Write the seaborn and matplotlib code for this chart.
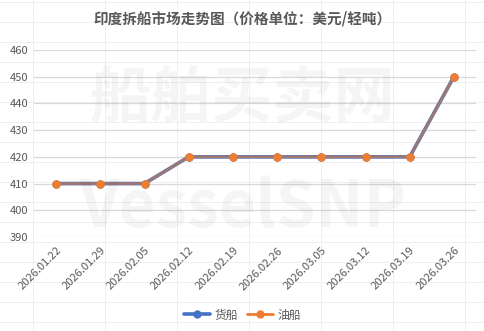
import matplotlib
matplotlib.use("Agg")
import matplotlib.pyplot as plt
import seaborn as sns
import pandas as pd
from matplotlib.lines import Line2D

dates = ["2026.01.22", "2026.01.29", "2026.02.05", "2026.02.12", "2026.02.19",
         "2026.02.26", "2026.03.05", "2026.03.12", "2026.03.19", "2026.03.26"]
cargo = [410, 410, 410, 420, 420, 420, 420, 420, 420, 450]
tanker = [410, 410, 410, 420, 420, 420, 420, 420, 420, 450]
yticks = [390, 400, 410, 420, 430, 440, 450, 460]
title = "印度拆船市场走势图（价格单位：美元/轻吨）"

sns.set_theme(style="white")
plt.rcParams['font.family'] = ['Noto Sans CJK SC', 'DejaVu Sans']

fig = plt.figure(figsize=(4.85, 3.31), dpi=100)
fig.patch.set_facecolor("white")

# faint spreadsheet cell grid behind the chart
for xv in [33, 105, 177, 249, 321, 393, 465]:
    fig.add_artist(Line2D([xv / 485, xv / 485], [0, 1], color="#ececec", lw=0.6, zorder=0))
for yv in range(2, 331, 20):
    fig.add_artist(Line2D([0, 1], [1 - yv / 331, 1 - yv / 331], color="#ececec", lw=0.6, zorder=0))

ax = fig.add_axes([34 / 485, (331 - 237) / 331, (476 - 34) / 485, (237 - 50) / 331])
ax.set_facecolor("none")

df = pd.DataFrame({"date": dates, "货船": cargo, "油船": tanker})
df["x"] = range(len(dates))

sns.lineplot(data=df, x="x", y="货船", ax=ax, color="#4472C4", lw=2.6,
             marker="o", markersize=6, markeredgewidth=0, label="货船", zorder=3)
sns.lineplot(data=df, x="x", y="油船", ax=ax, color="#ED7D31", lw=2.0, alpha=1,
             marker="o", markersize=6, markeredgewidth=0, label="油船", zorder=4)
# blend the overlapping line colours
ax.lines[1].set_color("#ED7D31")
ax.lines[1].set_alpha(0.55)
ax.plot(df["x"], df["油船"], ls="none", marker="o", ms=6, mew=0, color="#ED7D31", zorder=5)

ax.set_xlim(-0.5, len(dates) - 0.5)
ax.set_ylim(390, 460)
ax.set_yticks(yticks)
ax.set_xticks(range(len(dates)))
ax.set_xticklabels(dates, rotation=45, ha="right", rotation_mode="anchor")
ax.yaxis.grid(True, color="#d9d9d9", lw=0.9)
ax.xaxis.grid(False)
for s in ax.spines.values():
    s.set_visible(False)
ax.tick_params(axis="both", length=0, colors="#595959", labelsize=8)
ax.tick_params(axis="x", pad=6)
ax.tick_params(axis="y", pad=4)
ax.set_xlabel("")
ax.set_ylabel("")

# watermark
fig.text(0.50, 0.70, "船舶买卖网", fontsize=44, color="#000000", alpha=0.04,
         ha="center", va="center", fontweight="bold")
fig.text(0.50, 0.37, "VesselSNP", fontsize=46, color="#000000", alpha=0.04,
         ha="center", va="center", fontweight="bold")

fig.text(0.5, 1 - 18 / 331, title, ha="center", va="center", fontsize=10.5,
         fontweight="bold", color="#595959")

ax.get_legend().remove()
h = [Line2D([], [], color="#4472C4", lw=2.6, marker="o", ms=6, mew=0),
     Line2D([], [], color="#ED7D31", lw=2.0, marker="o", ms=6, mew=0)]
fig.legend(h, ["货船", "油船"], loc="center", bbox_to_anchor=(0.5, 1 - 315 / 331),
           ncol=2, frameon=False, fontsize=8.5, labelcolor="#595959",
           handlelength=2.2, columnspacing=0.8, handletextpad=0.4)

fig.savefig("out.png", dpi=100, facecolor="white")
